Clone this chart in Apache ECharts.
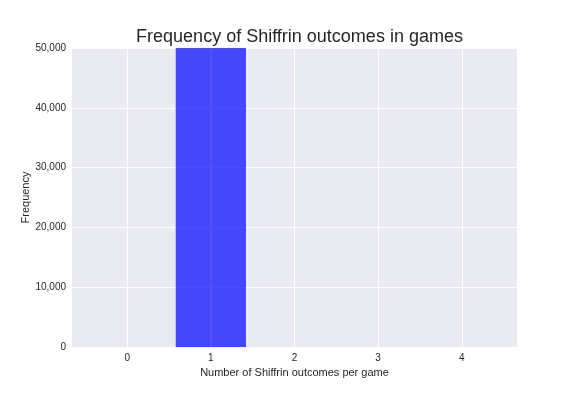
<!DOCTYPE html>
<html><head><meta charset="utf-8">
<script src="https://cdn.jsdelivr.net/npm/echarts@6/dist/echarts.min.js"></script>
<style>html,body{margin:0;padding:0;background:#fff}#c{width:576px;height:396px}</style>
</head><body><div id="c"></div>
<script>
var outcomes = [0, 1, 2, 3, 4];
var frequencies = [0, 100000, 0, 0, 0];
var yTicks = [0, 10000, 20000, 30000, 40000, 50000];

var chart = echarts.init(document.getElementById('c'), null, {renderer: 'canvas'});
var font = 'Liberation Sans, Arial, sans-serif';
var halfW = 0.42;
chart.setOption({
  animation: false,
  backgroundColor: '#ffffff',
  title: {
    text: 'Frequency of Shiffrin outcomes in games',
    left: 294.5, textAlign: 'center', top: 23,
    textStyle: {fontFamily: font, fontSize: 18, fontWeight: 'normal', color: '#262626'}
  },
  grid: {left: 72, right: 59, top: 48, bottom: 49, show: true, backgroundColor: '#EAEAF2', borderWidth: 0},
  xAxis: {
    type: 'value', min: -0.66, max: 4.66,
    name: 'Number of Shiffrin outcomes per game', nameLocation: 'middle', nameGap: 20,
    nameMoveOverlap: false,
    nameTextStyle: {fontFamily: font, fontSize: 11, color: '#262626'},
    axisLine: {show: false}, axisTick: {show: false, customValues: outcomes},
    axisLabel: {customValues: outcomes, fontFamily: font, fontSize: 10, color: '#262626', margin: 6},
    splitLine: {show: true, lineStyle: {color: '#ffffff', width: 1}}
  },
  yAxis: {
    type: 'value', min: 0, max: 50000, interval: 10000,
    name: 'Frequency', nameLocation: 'middle', nameGap: 41,
    nameMoveOverlap: false,
    nameTextStyle: {fontFamily: font, fontSize: 11, color: '#262626'},
    axisLine: {show: false}, axisTick: {show: false},
    axisLabel: {fontFamily: font, fontSize: 10, color: '#262626', margin: 6,
      formatter: function (v) { return v.toLocaleString('en-US'); }},
    splitLine: {show: true, lineStyle: {color: '#ffffff', width: 1}}
  },
  series: [{
    type: 'custom',
    clip: true,
    data: outcomes.map(function (o, i) { return [o, frequencies[i]]; }),
    renderItem: function (params, api) {
      var x = api.value(0), y = api.value(1);
      if (!y) return null;
      var p0 = api.coord([x - halfW, 0]);
      var p1 = api.coord([x + halfW, y]);
      var rect = echarts.graphic.clipRectByRect({
        x: p0[0], y: p1[1], width: p1[0] - p0[0], height: p0[1] - p1[1]
      }, params.coordSys);
      if (!rect) return null;
      var xc = api.coord([x, 0])[0];
      return {type: 'group', children: [
        {type: 'rect', shape: rect, style: {fill: 'rgba(0,0,255,0.7)'}},
        {type: 'line', shape: {x1: xc, y1: rect.y, x2: xc, y2: rect.y + rect.height},
         style: {stroke: 'rgba(255,255,255,0.1)', lineWidth: 1}}
      ]};
    }
  }]
});
</script></body></html>
